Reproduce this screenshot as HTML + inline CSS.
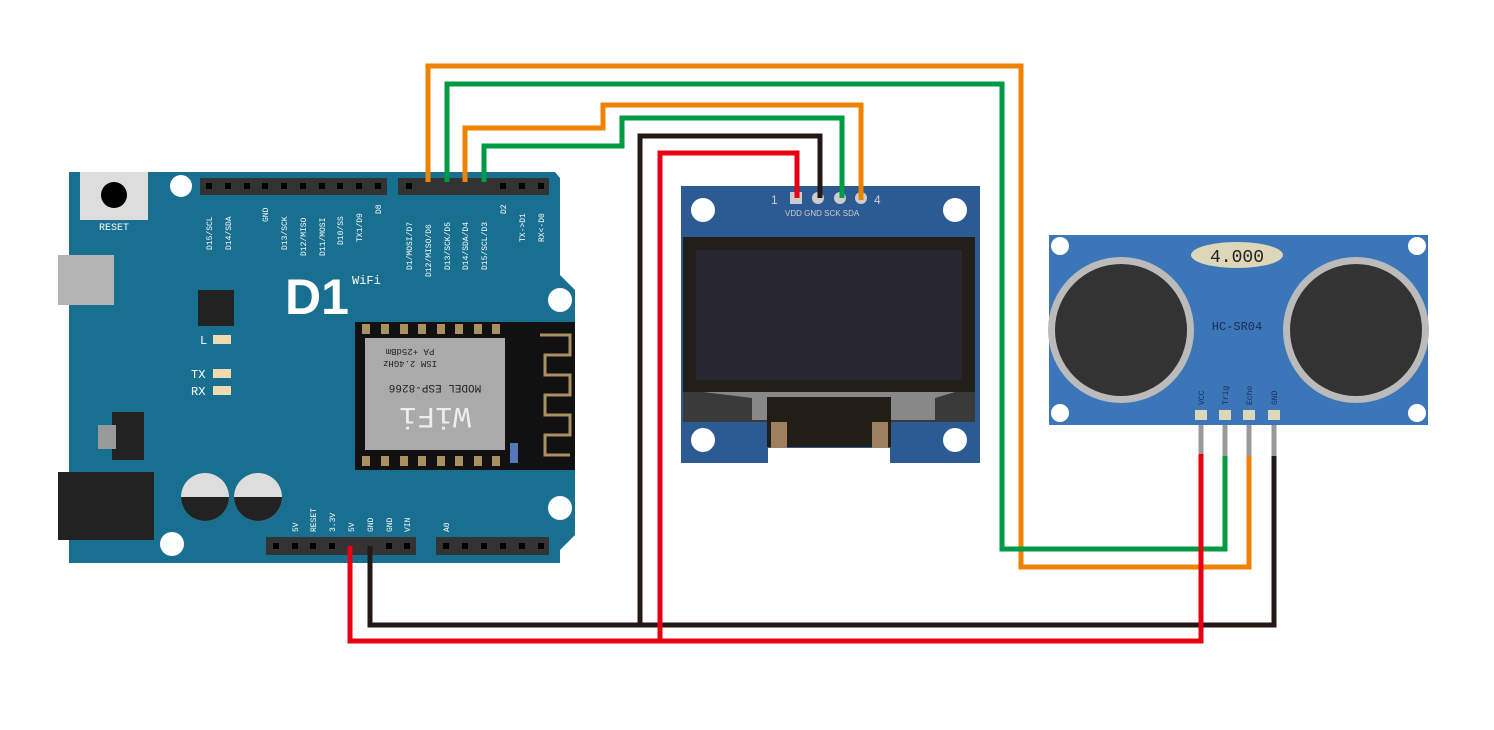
<!DOCTYPE html>
<html><head><meta charset="utf-8"><style>body{margin:0;background:#fff}svg{display:block}</style></head><body>
<svg width="1494" height="730" viewBox="0 0 1494 730" xmlns="http://www.w3.org/2000/svg" font-family="Liberation Mono, monospace">
<rect width="1494" height="730" fill="#fff"/>
<!-- D1 board -->
<path d="M69 172 H555 L560 178 V275 L575 290 V535 L560 550 V563 H69 Z" fill="#186f8f"/>
<rect x="80" y="172" width="68" height="48" fill="#ddd"/>
<circle cx="114" cy="195" r="13" fill="#000"/>
<text x="114" y="230" font-size="10" fill="#fff" text-anchor="middle">RESET</text>
<circle cx="181" cy="186" r="11" fill="#fff"/><circle cx="172" cy="544" r="12" fill="#fff"/>
<circle cx="560" cy="300" r="12" fill="#fff"/><circle cx="560" cy="508" r="12" fill="#fff"/>
<rect x="58" y="255" width="56" height="50" fill="#b4b4b4"/>
<rect x="58" y="472" width="96" height="68" fill="#222"/>
<rect x="198" y="290" width="36" height="36" fill="#222"/>
<rect x="112" y="412" width="32" height="48" fill="#222"/><rect x="98" y="425" width="18" height="24" fill="#999"/>
<circle cx="205" cy="497" r="24" fill="#ddd"/><path d="M181 497 A24 24 0 0 0 229 497 Z" fill="#222"/>
<circle cx="258" cy="497" r="24" fill="#ddd"/><path d="M234 497 A24 24 0 0 0 282 497 Z" fill="#222"/>
<rect x="213" y="335" width="18" height="9" fill="#eedcb0"/><rect x="213" y="369" width="18" height="9" fill="#eedcb0"/><rect x="213" y="386" width="18" height="9" fill="#eedcb0"/>
<text x="200" y="344" font-size="12" fill="#fff">L</text><text x="191" y="378" font-size="12" fill="#fff">TX</text><text x="191" y="395" font-size="12" fill="#fff">RX</text>
<text x="285" y="314" font-size="50" font-weight="bold" fill="#fff" font-family="Liberation Sans, sans-serif">D1</text>
<text x="352" y="284" font-size="12" fill="#fff">WiFi</text>
<!-- ESP module -->
<rect x="355" y="322" width="220" height="148" fill="#111"/>
<g fill="#a89060"><rect x="362" y="324" width="8" height="10"/><rect x="381" y="324" width="8" height="10"/><rect x="400" y="324" width="8" height="10"/><rect x="418" y="324" width="8" height="10"/><rect x="437" y="324" width="8" height="10"/><rect x="455" y="324" width="8" height="10"/><rect x="474" y="324" width="8" height="10"/><rect x="492" y="324" width="8" height="10"/>
<rect x="362" y="456" width="8" height="10"/><rect x="381" y="456" width="8" height="10"/><rect x="400" y="456" width="8" height="10"/><rect x="418" y="456" width="8" height="10"/><rect x="437" y="456" width="8" height="10"/><rect x="455" y="456" width="8" height="10"/><rect x="474" y="456" width="8" height="10"/><rect x="492" y="456" width="8" height="10"/></g>
<rect x="365" y="338" width="140" height="112" fill="#aaa"/>
<text x="435" y="395" font-size="11" fill="#222" text-anchor="middle" transform="rotate(180 435 390)">MODEL ESP-8266</text>
<text x="435" y="428" font-size="30" fill="#eee" text-anchor="middle" transform="rotate(180 435 418)">WiFi</text>
<text x="410" y="367" font-size="9" fill="#222" text-anchor="middle" transform="rotate(180 410 364)">ISM 2.4GHz</text>
<text x="410" y="355" font-size="9" fill="#222" text-anchor="middle" transform="rotate(180 410 352)">PA +25dBm</text>
<path d="M540 335 H570 V355 H545 V375 H570 V395 H545 V415 H570 V435 H545 V455 H570" stroke="#a89060" stroke-width="3" fill="none"/>
<rect x="510" y="443" width="8" height="20" fill="#5577bb"/>
<!-- headers -->
<rect x="200" y="178" width="187" height="17" fill="#333"/><rect x="398" y="178" width="151" height="17" fill="#333"/>
<rect x="266" y="537" width="150" height="18" fill="#333"/><rect x="436" y="537" width="113" height="18" fill="#333"/>
<g fill="#000">
<rect x="206" y="183" width="6" height="6"/><rect x="225" y="183" width="6" height="6"/><rect x="244" y="183" width="6" height="6"/><rect x="262" y="183" width="6" height="6"/><rect x="281" y="183" width="6" height="6"/><rect x="300" y="183" width="6" height="6"/><rect x="319" y="183" width="6" height="6"/><rect x="337" y="183" width="6" height="6"/><rect x="356" y="183" width="6" height="6"/><rect x="375" y="183" width="6" height="6"/>
<rect x="406" y="183" width="6" height="6"/><rect x="500" y="183" width="6" height="6"/><rect x="519" y="183" width="6" height="6"/><rect x="538" y="183" width="6" height="6"/>
<rect x="273" y="543" width="6" height="6"/><rect x="292" y="543" width="6" height="6"/><rect x="310" y="543" width="6" height="6"/><rect x="329" y="543" width="6" height="6"/><rect x="386" y="543" width="6" height="6"/><rect x="404" y="543" width="6" height="6"/>
<rect x="443" y="543" width="6" height="6"/><rect x="462" y="543" width="6" height="6"/><rect x="481" y="543" width="6" height="6"/><rect x="500" y="543" width="6" height="6"/><rect x="519" y="543" width="6" height="6"/><rect x="538" y="543" width="6" height="6"/>
</g>
<g font-size="8" fill="#fff">
<text transform="translate(212,250) rotate(-90)">D15/SCL</text><text transform="translate(231,250) rotate(-90)">D14/SDA</text>
<text transform="translate(268,222) rotate(-90)">GND</text><text transform="translate(287,250) rotate(-90)">D13/SCK</text>
<text transform="translate(306,256) rotate(-90)">D12/MISO</text><text transform="translate(325,256) rotate(-90)">D11/MOSI</text>
<text transform="translate(343,245) rotate(-90)">D10/SS</text><text transform="translate(362,242) rotate(-90)">TX1/D9</text>
<text transform="translate(381,214) rotate(-90)">D8</text>
<text transform="translate(412,270) rotate(-90)">D1/MOSI/D7</text><text transform="translate(431,277) rotate(-90)">D12/MISO/D6</text>
<text transform="translate(450,270) rotate(-90)">D13/SCK/D5</text><text transform="translate(468,270) rotate(-90)">D14/SDA/D4</text>
<text transform="translate(487,270) rotate(-90)">D15/SCL/D3</text><text transform="translate(506,214) rotate(-90)">D2</text>
<text transform="translate(525,242) rotate(-90)">TX-&gt;D1</text><text transform="translate(544,242) rotate(-90)">RX&lt;-D0</text>
<text transform="translate(298,532) rotate(-90)">5V</text><text transform="translate(316,532) rotate(-90)">RESET</text>
<text transform="translate(335,532) rotate(-90)">3.3V</text><text transform="translate(354,532) rotate(-90)">5V</text>
<text transform="translate(373,532) rotate(-90)">GND</text><text transform="translate(392,532) rotate(-90)">GND</text>
<text transform="translate(410,532) rotate(-90)">VIN</text><text transform="translate(449,532) rotate(-90)">A0</text>
</g>
<!-- OLED -->
<path d="M681 186 H980 V463 H890 V448 H768 V463 H681 Z" fill="#2c5a92"/>
<circle cx="703" cy="210" r="12" fill="#fff"/><circle cx="955" cy="210" r="12" fill="#fff"/>
<circle cx="703" cy="440" r="12" fill="#fff"/><circle cx="955" cy="440" r="12" fill="#fff"/>
<rect x="683" y="237" width="292" height="185" fill="#211f1a"/>
<rect x="696" y="250" width="266" height="130" fill="#28272f"/>
<rect x="683" y="392" width="292" height="30" fill="#3a3a3a"/>
<path d="M703 392 H955 L935 398 V420 H752 V398 Z" fill="#888"/>
<rect x="767" y="397" width="124" height="50" fill="#221e16"/>
<rect x="771" y="422" width="16" height="26" fill="#9c8060"/><rect x="872" y="422" width="16" height="26" fill="#9c8060"/>
<rect x="790" y="192" width="12" height="12" fill="#ccc"/>
<circle cx="818" cy="198" r="6" fill="#ccc"/><circle cx="840" cy="198" r="6" fill="#ccc"/><circle cx="861" cy="198" r="6" fill="#ccc"/>
<g fill="#ccc" font-family="Liberation Sans, sans-serif"><text x="771" y="204" font-size="12">1</text><text x="874" y="204" font-size="12">4</text>
<text x="785" y="216" font-size="8">VDD GND SCK SDA</text></g>
<!-- HC-SR04 -->
<rect x="1049" y="235" width="379" height="190" fill="#3b76b8"/>
<circle cx="1060" cy="246" r="9" fill="#fff"/><circle cx="1417" cy="246" r="9" fill="#fff"/>
<circle cx="1060" cy="413" r="9" fill="#fff"/><circle cx="1417" cy="413" r="9" fill="#fff"/>
<circle cx="1121" cy="330" r="73" fill="#bbb"/><circle cx="1121" cy="330" r="66" fill="#333"/>
<circle cx="1356" cy="330" r="73" fill="#bbb"/><circle cx="1356" cy="330" r="66" fill="#333"/>
<ellipse cx="1237" cy="255" rx="46" ry="13" fill="#ddd6b8"/>
<text x="1237" y="262" font-size="18" fill="#222" text-anchor="middle">4.000</text>
<text x="1237" y="330" font-size="12" fill="#1a2b55" text-anchor="middle">HC-SR04</text>
<g font-size="8" fill="#1a2b55"><text transform="translate(1204,405) rotate(-90)">VCC</text><text transform="translate(1228,405) rotate(-90)">Trig</text><text transform="translate(1252,405) rotate(-90)">Echo</text><text transform="translate(1277,405) rotate(-90)">GND</text></g>
<g fill="#ddd6b8"><rect x="1195" y="410" width="12" height="10"/><rect x="1219" y="410" width="12" height="10"/><rect x="1243" y="410" width="12" height="10"/><rect x="1268" y="410" width="12" height="10"/></g>
<g stroke="#999" stroke-width="5"><line x1="1201" y1="425" x2="1201" y2="455"/><line x1="1225" y1="425" x2="1225" y2="458"/><line x1="1249" y1="425" x2="1249" y2="458"/><line x1="1274" y1="425" x2="1274" y2="458"/></g>
<!-- wires -->
<g fill="none" stroke-width="5" stroke-linejoin="miter">
<path d="M428 182 V66 H1021 V567 H1249 V456" stroke="#ef8200"/>
<path d="M447 182 V84 H1002 V549 H1225 V456" stroke="#009a44"/>
<path d="M465 182 V128 H603 V105 H861 V200" stroke="#ef8200"/>
<path d="M484 182 V146 H622 V118 H842 V198" stroke="#009a44"/>
<path d="M820 198 V136 H640 V625" stroke="#231815"/>
<path d="M370 546 V625 H1274 V456" stroke="#231815"/>
<path d="M797 198 V153 H660 V641" stroke="#e60012"/>
<path d="M350 546 V641 H1201 V454" stroke="#e60012"/>
</g>
</svg>
</body></html>
